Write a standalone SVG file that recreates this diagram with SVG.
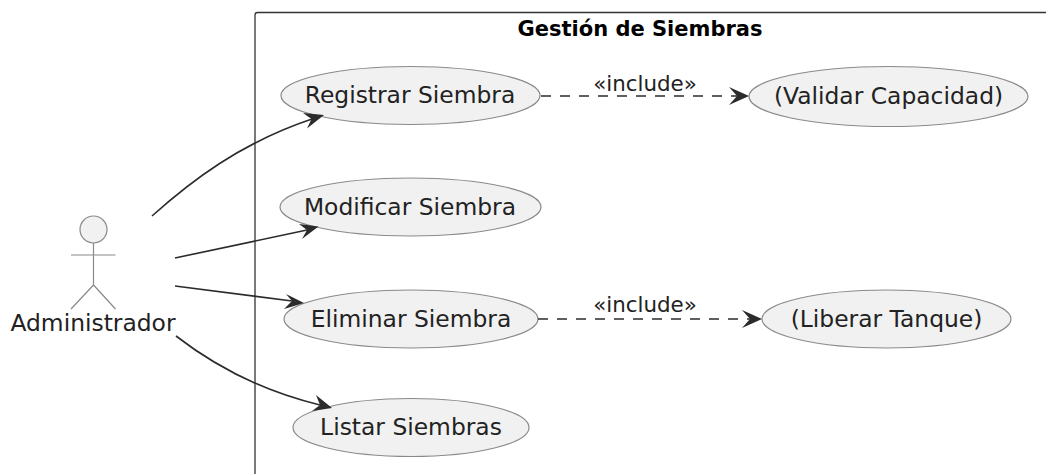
<svg xmlns="http://www.w3.org/2000/svg" width="1046" height="474" viewBox="0 0 1046 474">
<style>
text{font-family:"DejaVu Sans",sans-serif;fill:#222}
.uc{fill:#f1f1f1;stroke:#8a8a8a;stroke-width:1.200}
.uc-t{font-size:23.400px;text-anchor:middle}
.act{fill:none;stroke:#8a8a8a;stroke-width:1.200}
.c{fill:none;stroke:#2b2b2b;stroke-width:1.600}
.d{stroke-dasharray:10 9}
.h{fill:#2b2b2b;stroke:none}
.l{font-size:21.400px;text-anchor:middle}
</style>
<g id="sistema">
<path d="M255 474V15Q255 12.500 257.500 12.500H1046" fill="none" stroke="#333" stroke-width="1.300"/>
<text x="640" y="36" font-size="21" font-weight="700" text-anchor="middle" style="fill:#000">Gestión de Siembras</text>
</g>
<g id="actor">
<circle cx="93.500" cy="229.500" r="13.500" fill="#f1f1f1" stroke="#8a8a8a" stroke-width="1.200"/>
<path class="act" d="M93.500 243V285M71 255H115.500M71 309L93.500 285L115.500 309"/>
<text x="93" y="331" font-size="23.400" text-anchor="middle">Administrador</text>
</g>
<g id="uc-registrar"><ellipse class="uc" cx="410.500" cy="95.500" rx="129.500" ry="29"/><text class="uc-t" x="410" y="103">Registrar Siembra</text></g>
<g id="uc-validar"><ellipse class="uc" cx="888.500" cy="96.500" rx="139.500" ry="30"/><text class="uc-t" x="888.500" y="104">(Validar Capacidad)</text></g>
<g id="uc-modificar"><ellipse class="uc" cx="410.500" cy="207" rx="130.500" ry="29"/><text class="uc-t" x="410" y="215">Modificar Siembra</text></g>
<g id="uc-eliminar"><ellipse class="uc" cx="411" cy="319" rx="127" ry="29"/><text class="uc-t" x="411" y="327">Eliminar Siembra</text></g>
<g id="uc-liberar"><ellipse class="uc" cx="886.500" cy="319" rx="124.500" ry="29"/><text class="uc-t" x="886.500" y="327">(Liberar Tanque)</text></g>
<g id="uc-listar"><ellipse class="uc" cx="411" cy="427.500" rx="118" ry="29"/><text class="uc-t" x="411" y="435">Listar Siembras</text></g>
<g id="connectors">
<path class="c" d="M152 216C190 182 240 143 312 119"/>
<path class="h" d="M324 115L307 128.500L311.500 119L303 113Z"/>
<path class="c" d="M175 258L307 230"/>
<path class="h" d="M318.500 226.500L302 239L307 230L299 224Z"/>
<path class="c" d="M175 286L292 301"/>
<path class="h" d="M304 303L284 309L292 301L286 294Z"/>
<path class="c" d="M176 336C220 370 270 393 320 405"/>
<path class="h" d="M332 408L312 411L320 405L316 395Z"/>
<path class="c d" d="M541 96H738"/>
<path class="h" d="M749 96L729 105L737 96L729 87Z"/>
<path class="c d" d="M538 319H751"/>
<path class="h" d="M762 319L742 328L750 319L742 310Z"/>
<text class="l" x="645" y="90.500">«include»</text>
<text class="l" x="645" y="311.500">«include»</text>
</g>
</svg>
